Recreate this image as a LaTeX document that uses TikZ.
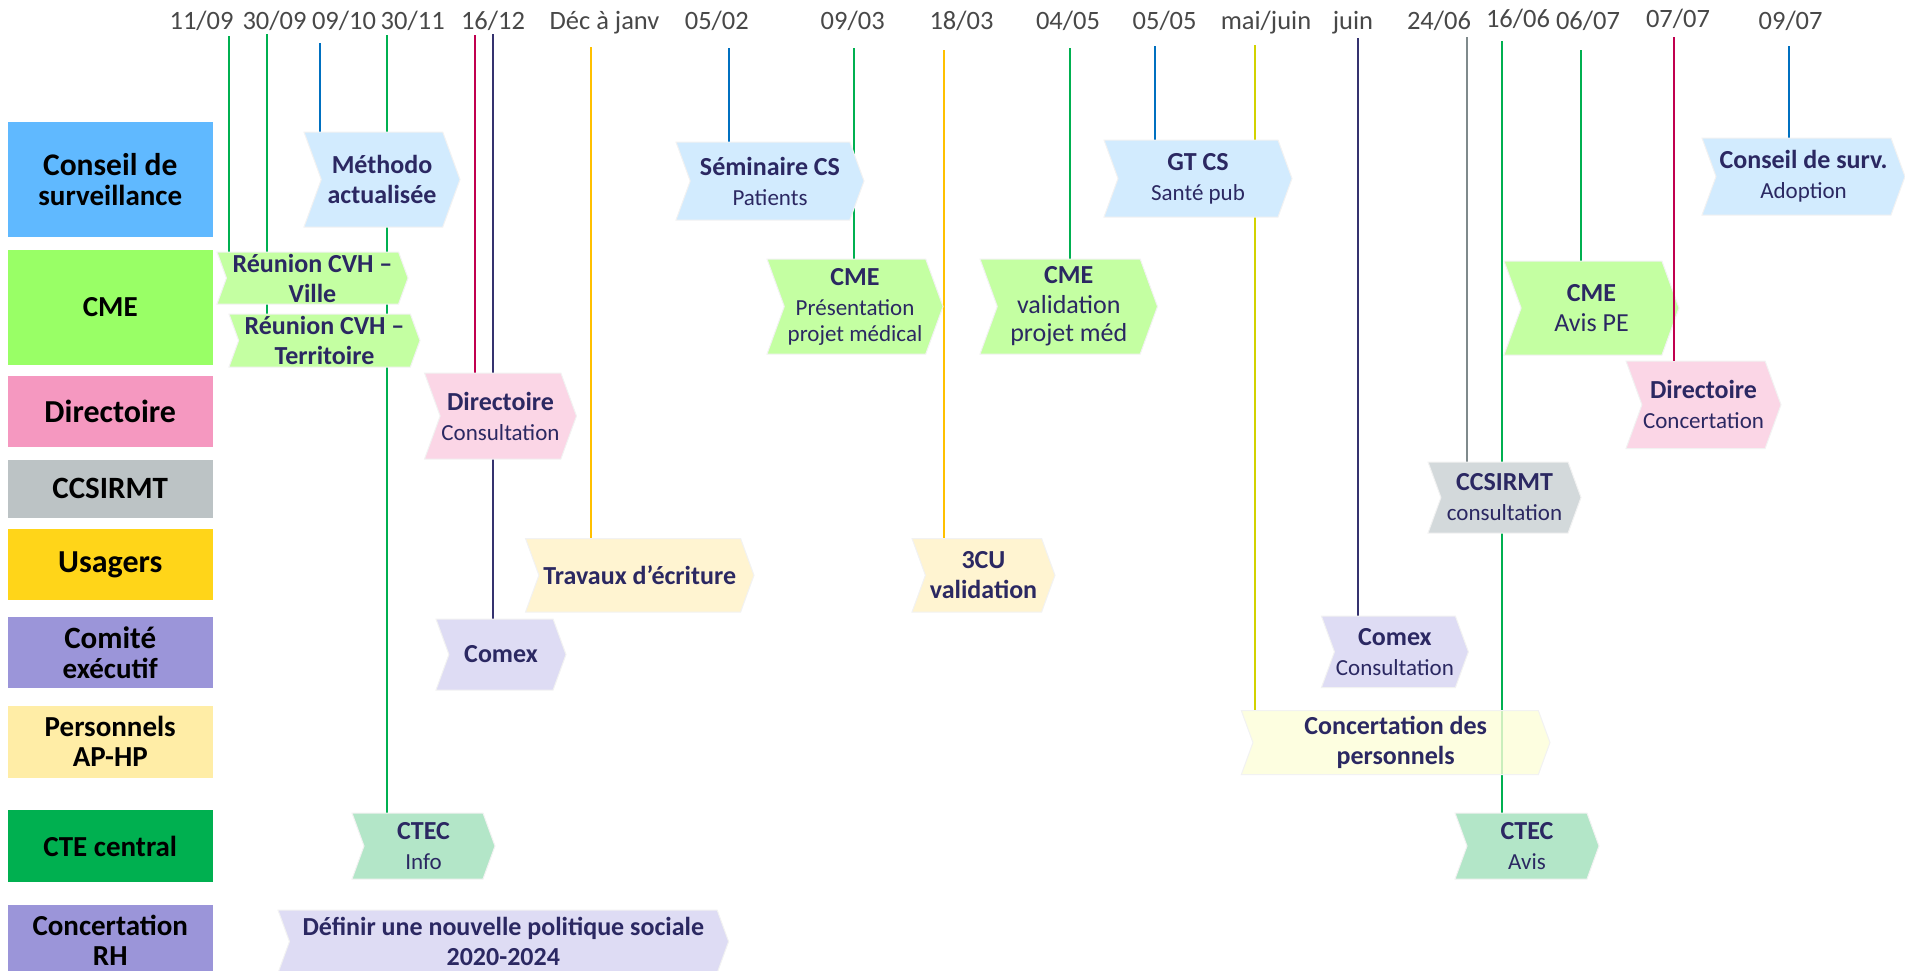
\documentclass[tikz,border=0pt]{standalone}
\usepackage{fontspec}
\setmainfont{Carlito}
\usetikzlibrary{shapes.symbols,backgrounds}

\definecolor{txtnavy}{HTML}{2B2862}
\definecolor{dategray}{HTML}{484848}
\definecolor{cscol}{HTML}{60B9FF}
\definecolor{cmecol}{HTML}{99FF66}
\definecolor{dircol}{HTML}{F598C0}
\definecolor{ccscol}{HTML}{BCC3C5}
\definecolor{usacol}{HTML}{FFD519}
\definecolor{comcol}{HTML}{9B95D9}
\definecolor{perscol}{HTML}{FFEDA6}
\definecolor{ctecol}{HTML}{00B050}
\definecolor{cslight}{HTML}{D2EBFE}
\definecolor{cmelight}{HTML}{C4FFA2}
\definecolor{dirlight}{HTML}{FBD6E6}
\definecolor{ccslight}{HTML}{D3D9DB}
\definecolor{usalight}{HTML}{FFF4D1}
\definecolor{comlight}{HTML}{DEDCF4}
\definecolor{perslight}{HTML}{FCFED8}
\definecolor{ctelight}{HTML}{B3E6C8}
\definecolor{lgreen}{HTML}{00B050}
\definecolor{lblue}{HTML}{0070C0}
\definecolor{lcrimson}{HTML}{C0004F}
\definecolor{lnavy}{HTML}{35326F}
\definecolor{lyellow}{HTML}{FFC000}
\definecolor{lolive}{HTML}{D2D200}
\definecolor{lgray}{HTML}{7F8A8C}

\newcommand{\subtxt}[1]{{\fontsize{23}{27}\selectfont\mdseries #1}}
\newcommand{\regtxt}[1]{{\mdseries #1}}
\newcommand{\lblsize}[1]{\fontsize{#1}{30}\selectfont}

\begin{document}
\begin{tikzpicture}[x=1pt, y=-1pt]
    \tikzstyle{lbl} = [rectangle, minimum width=205.5pt, inner sep=0pt,
        align=center, text=black, font=\fontsize{29}{30}\selectfont\bfseries]
    \tikzstyle{chev} = [signal, signal from=west, signal to=east,
        signal pointer angle=140, inner xsep=0pt, inner ysep=2pt,
        align=center, text=txtnavy, draw=black!5, line width=1pt,
        font=\fontsize{26}{30}\selectfont\bfseries]
    \tikzstyle{chevtext} = [align=center, text=txtnavy, inner sep=0pt,
        font=\fontsize{26}{30}\selectfont\bfseries]
    \tikzstyle{datelbl} = [anchor=base, inner sep=0pt, text=dategray,
        font=\fontsize{26.5}{30}\selectfont]
    \tikzstyle{vline} = [line width=2pt]

    \useasboundingbox (0,0) rectangle (1905,970);

    \node(lblcs) [lbl, fill=cscol, minimum height=114.7pt]
        at (110.25,179.35) {\lblsize{31.5}Conseil de\\ surveillance};
    \node(lblcme) [lbl, fill=cmecol, minimum height=115pt]
        at (110.25,307.5) {CME};
    \node(lbldir) [lbl, fill=dircol, minimum height=70.8pt]
        at (110.25,411.1) {\lblsize{32}Directoire};
    \node(lblccs) [lbl, fill=ccscol, minimum height=57.7pt]
        at (110.25,488.85) {\lblsize{31}CCSIRMT};
    \node(lblusa) [lbl, fill=usacol, minimum height=71.6pt]
        at (110.25,564.6) {\lblsize{32}Usagers};
    \node(lblcom) [lbl, fill=comcol, minimum height=71.6pt]
        at (110.25,652.6) {\lblsize{31}Comité\\ exécutif};
    \node(lblpers) [lbl, fill=perscol, minimum height=71.6pt]
        at (110.25,741.8) {Personnels\\ AP-HP};
    \node(lblcte) [lbl, fill=ctecol, minimum height=72pt]
        at (110.25,846) {CTE central};
    \node(lblrh) [lbl, fill=comcol, minimum height=72pt]
        at (110.25,940.6) {Concertation\\ RH};

    \node(d1109) [datelbl] at (201.6,29) {11/09};
    \node(d3009) [datelbl] at (274.5,29) {30/09};
    \node(d0910) [datelbl] at (344,29) {09/10};
    \node(d3011) [datelbl] at (412.7,29) {30/11};
    \node(d1612) [datelbl] at (493,29) {16/12};
    \node(ddec) [datelbl] at (604.5,29) {Déc à janv};
    \node(d0502) [datelbl] at (716.8,29) {05/02};
    \node(d0903) [datelbl] at (852.7,29) {09/03};
    \node(d1803) [datelbl] at (961.5,29) {18/03};
    \node(d0405) [datelbl] at (1068,29) {04/05};
    \node(d0505) [datelbl] at (1164.6,29) {05/05};
    \node(dmai) [datelbl] at (1266,29) {mai/juin};
    \node(djuin) [datelbl] at (1353,29) {juin};
    \node(d2406) [datelbl] at (1439,29) {24/06};
    \node(d1606) [datelbl] at (1518,27) {16/06};
    \node(d0607) [datelbl] at (1588,29) {06/07};
    \node(d0707) [datelbl] at (1678,27) {07/07};
    \node(d0907) [datelbl] at (1790.6,29) {09/07};

    \node(methodo) [chev, fill=cslight, minimum width=156pt,
        minimum height=95pt]
        at (382,179.5) {Méthodo\\ actualisée};
    \node(seminaire) [chev, fill=cslight, minimum width=188pt,
        minimum height=78pt]
        at (770,181) {Séminaire CS\\ \subtxt{Patients}};
    \node(gtcs) [chev, fill=cslight, minimum width=188pt,
        minimum height=77pt]
        at (1198,178.5) {GT CS\\ \subtxt{Santé pub}};
    \node(conssurv) [chev, fill=cslight, minimum width=203pt,
        minimum height=77pt]
        at (1803.5,176.5) {Conseil de surv.\\ \subtxt{Adoption}};
    \node(ville) [chev, fill=cmelight, minimum width=191pt,
        minimum height=52pt,
        label={[chevtext]center:{Réunion CVH –\\ Ville}}]
        at (312.5,278) {};
    \node(territoire) [chev, fill=cmelight, minimum width=191pt,
        minimum height=53pt,
        label={[chevtext]center:{Réunion CVH –\\ Territoire}}]
        at (324.5,340.5) {};
    \node(cmepres) [chev, fill=cmelight, minimum width=176pt,
        minimum height=95pt]
        at (855,306.5) {CME\\ \subtxt{Présentation}\\[-4pt]
        \subtxt{projet médical}};
    \node(cmevalid) [chev, fill=cmelight, minimum width=177.5pt,
        minimum height=95pt]
        at (1068.75,306.5) {CME\\ \regtxt{validation}\\[-2pt]
        \regtxt{projet méd}};
    \node(cmeavis) [chev, fill=cmelight, minimum width=175pt,
        minimum height=94pt]
        at (1591.5,308) {CME\\ \regtxt{Avis PE}};
    \node(dirconsult) [chev, fill=dirlight, minimum width=152pt,
        minimum height=86pt]
        at (500.5,416) {Directoire\\ \subtxt{Consultation}};
    \node(dirconcert) [chev, fill=dirlight, minimum width=155pt,
        minimum height=87.5pt]
        at (1703.5,404.75) {Directoire\\ \subtxt{Concertation}};
    \node(ccsirmt) [chev, fill=ccslight, minimum width=153pt,
        minimum height=71pt]
        at (1504.5,497.5) {CCSIRMT\\ \subtxt{consultation}};
    \node(travaux) [chev, fill=usalight, minimum width=228.5pt,
        minimum height=73.5pt]
        at (639.75,575.25) {Travaux d’écriture};
    \node(troiscu) [chev, fill=usalight, minimum width=143pt,
        minimum height=73.5pt]
        at (983.5,575.25) {3CU\\ validation};
    \node(comex) [chev, fill=comlight, minimum width=130pt,
        minimum height=71pt]
        at (501,654.5) {Comex};
    \node(comexconsult) [chev, fill=comlight, minimum width=147pt,
        minimum height=71.6pt]
        at (1394.9,651.8) {Comex\\ \subtxt{Consultation}};
    \node(concertpers) [chev, fill=perslight, fill opacity=0.8,
        text opacity=1, minimum width=308.7pt, minimum height=64pt]
        at (1395.65,742.55) {Concertation des\\ personnels};
    \node(ctecinfo) [chev, fill=ctelight, minimum width=143pt,
        minimum height=66pt]
        at (423.5,846) {CTEC\\ \subtxt{Info}};
    \node(ctecavis) [chev, fill=ctelight, minimum width=144pt,
        minimum height=66pt]
        at (1527,846) {CTEC\\ \subtxt{Avis}};
    \node(definir) [chev, fill=comlight, minimum width=450.6pt,
        minimum height=63pt]
        at (503.3,941.5) {Définir une nouvelle politique sociale\\
        2020-2024};

    \coordinate (t1109) at (229,36);
    \coordinate (t3009) at (267,34);
    \coordinate (t0910) at (320,43);
    \coordinate (t3011) at (387,35);
    \coordinate (t1612a) at (475,35);
    \coordinate (t1612b) at (492.6,34);
    \coordinate (tdec) at (590.6,47);
    \coordinate (t0502) at (729,48);
    \coordinate (t0903) at (853.6,48);
    \coordinate (t1803) at (943.5,50);
    \coordinate (t0405) at (1069.5,48);
    \coordinate (t0505) at (1154.5,46);
    \coordinate (tmai) at (1255,45);
    \coordinate (tjuin) at (1357.5,38);
    \coordinate (t2406) at (1467,37);
    \coordinate (t1606) at (1502,41);
    \coordinate (t0607) at (1581,50);
    \coordinate (t0707) at (1674,37);
    \coordinate (t0907) at (1789.4,46);

    \begin{scope}[on background layer]
        \draw[vline, lgreen] (t1109) -- (t1109 |- ville.north);
        \draw[vline, lgreen] (t3009) -- (t3009 |- territoire.north);
        \draw[vline, lblue] (t0910) -- (t0910 |- methodo.north);
        \draw[vline, lgreen] (t3011) -- (t3011 |- ctecinfo.north);
        \draw[vline, lcrimson] (t1612a) -- (t1612a |- dirconsult.north);
        \draw[vline, lnavy] (t1612b) -- (t1612b |- comex.north);
        \draw[vline, lyellow] (tdec) -- (tdec |- travaux.north);
        \draw[vline, lblue] (t0502) -- (t0502 |- seminaire.north);
        \draw[vline, lgreen] (t0903) -- (t0903 |- cmepres.north);
        \draw[vline, lyellow] (t1803) -- (t1803 |- troiscu.north);
        \draw[vline, lgreen] (t0405) -- (t0405 |- cmevalid.north);
        \draw[vline, lblue] (t0505) -- (t0505 |- gtcs.north);
        \draw[vline, lolive] (tmai) -- (tmai |- concertpers.north);
        \draw[vline, lnavy] (tjuin) -- (tjuin |- comexconsult.north);
        \draw[vline, lgray] (t2406) -- (t2406 |- ccsirmt.north);
        \draw[vline, lgreen] (t1606) -- (t1606 |- ctecavis.north);
        \draw[vline, lgreen] (t0607) -- (t0607 |- cmeavis.north);
        \draw[vline, lblue] (t0907) -- (t0907 |- conssurv.north);
    \end{scope}
    \draw[vline, lcrimson] (t0707) -- (t0707 |- dirconcert.north);
\end{tikzpicture}
\end{document}
